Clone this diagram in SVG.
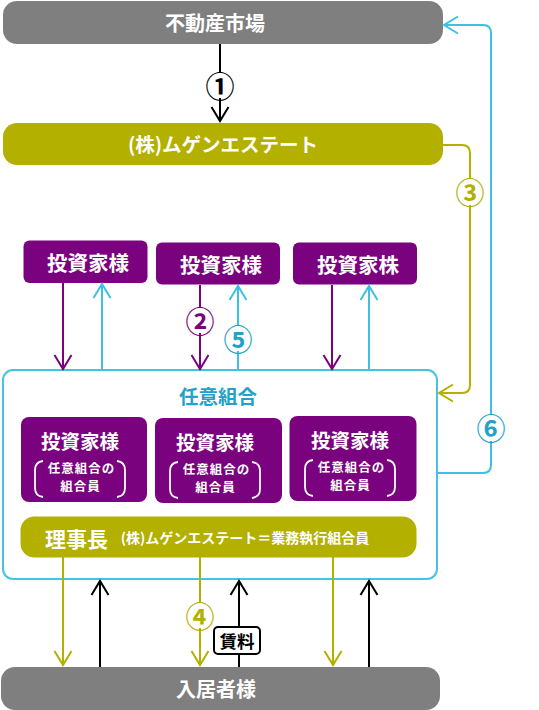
<svg xmlns="http://www.w3.org/2000/svg" width="539" height="710" viewBox="0 0 539 710">
<defs>
<style>
text{font-family:"Noto Sans CJK JP","Noto Sans",sans-serif;text-anchor:middle;dominant-baseline:central}
.w{fill:#fff;font-weight:bold}
.big{font-size:20px}
.mid{font-size:19.5px}
.top{font-size:20.5px}
.sm{font-size:12.5px;letter-spacing:1px}
.num{font-size:29px;font-weight:bold}
.ln{fill:none;stroke-width:2}
.k{stroke:#000}
.p{stroke:#7b027e}
.c{stroke:#3fc0e2}
.o{stroke:#b3b000}
.br{fill:none;stroke:#fff;stroke-width:1.8}
.gray{fill:#7f7f7f}
.olive{fill:#b3b000}
.purple{fill:#7b027e}
</style>
<marker id="ak" markerUnits="userSpaceOnUse" markerWidth="20" markerHeight="20" viewBox="0 0 20 20" refX="15" refY="10" orient="auto"><path d="M1,1.5 L15,10 L1,18.5" fill="none" stroke="#000" stroke-width="2"/></marker>
<marker id="ap" markerUnits="userSpaceOnUse" markerWidth="20" markerHeight="20" viewBox="0 0 20 20" refX="15" refY="10" orient="auto"><path d="M1,1.5 L15,10 L1,18.5" fill="none" stroke="#7b027e" stroke-width="2"/></marker>
<marker id="ac" markerUnits="userSpaceOnUse" markerWidth="20" markerHeight="20" viewBox="0 0 20 20" refX="15" refY="10" orient="auto"><path d="M1,1.5 L15,10 L1,18.5" fill="none" stroke="#3fc0e2" stroke-width="2"/></marker>
<marker id="ao" markerUnits="userSpaceOnUse" markerWidth="20" markerHeight="20" viewBox="0 0 20 20" refX="15" refY="10" orient="auto"><path d="M1,1.5 L15,10 L1,18.5" fill="none" stroke="#b3b000" stroke-width="2"/></marker>
</defs>
<rect width="539" height="710" fill="#fff"/>

<g id="market">
<rect class="gray" x="3" y="1" width="440" height="43" rx="14"/>
<text class="w big" x="215" y="22">不動産市場</text>
</g>

<g id="mugen">
<rect class="olive" x="3" y="123" width="440" height="42" rx="14"/>
<text class="w mid" x="223" y="143">(株)ムゲンエステート</text>
</g>

<g id="investor1">
<rect class="purple" x="23.5" y="240.5" width="124" height="42.5" rx="6"/>
<text class="w top" x="88" y="262">投資家様</text>
</g>
<g id="investor2">
<rect class="purple" x="156" y="242.5" width="124" height="42" rx="6"/>
<text class="w top" x="221" y="264">投資家様</text>
</g>
<g id="investor3">
<rect class="purple" x="293" y="242.5" width="124" height="42" rx="6"/>
<text class="w top" x="358" y="264">投資家株</text>
</g>

<g id="kumiai">
<rect x="3" y="370" width="434" height="209" rx="10" fill="none" stroke="#45c2e4" stroke-width="2"/>
<text x="218" y="395" style="font-size:19.5px;font-weight:bold;fill:#22a2c8">任意組合</text>
</g>

<g id="member1">
<rect class="purple" x="21" y="417" width="126" height="85" rx="8"/>
<text class="w mid" x="80" y="440">投資家様</text>
<text class="w sm" x="81.5" y="467">任意組合の</text>
<text class="w sm" x="80.5" y="485.5">組合員</text>
<path class="br" d="M43,461 Q35,462 35,470 V488 Q35,496 43,497 M117,461 Q125,462 125,470 V488 Q125,496 117,497"/>
</g>
<g id="member2">
<rect class="purple" x="155" y="418" width="127" height="85" rx="8"/>
<text class="w mid" x="215" y="441">投資家様</text>
<text class="w sm" x="216.5" y="468">任意組合の</text>
<text class="w sm" x="215.5" y="486.5">組合員</text>
<path class="br" d="M178,462 Q170,463 170,471 V489 Q170,497 178,498 M252,462 Q260,463 260,471 V489 Q260,497 252,498"/>
</g>
<g id="member3">
<rect class="purple" x="289.5" y="416" width="127" height="85" rx="8"/>
<text class="w mid" x="350" y="439">投資家様</text>
<text class="w sm" x="351.5" y="466">任意組合の</text>
<text class="w sm" x="350.5" y="484.5">組合員</text>
<path class="br" d="M313,460 Q305,461 305,469 V487 Q305,495 313,496 M387,460 Q395,461 395,469 V487 Q395,495 387,496"/>
</g>

<g id="chairman">
<rect class="olive" x="20.5" y="516.5" width="396" height="41" rx="14"/>
<text class="w" x="76.5" y="538" style="font-size:21px">理事長</text>
<text class="w" x="245" y="537" style="font-size:14px">(株)ムゲンエステート＝業務執行組合員</text>
</g>

<g id="tenant">
<rect class="gray" x="1" y="667" width="439" height="43" rx="14"/>
<text class="w big" x="216" y="688">入居者様</text>
</g>

<g id="connectors">
<path class="ln k" d="M220,44 V72"/>
<path class="ln k" d="M220,98 V121" marker-end="url(#ak)"/>
<text class="num" x="220" y="85" fill="#000">①</text>

<path class="ln o" d="M443,145 H462 Q470,145 470,153 V178"/>
<path class="ln o" d="M470,205 V385 Q470,393 462,393 H439" marker-end="url(#ao)"/>
<text class="num" x="470" y="191" fill="#b3b000">③</text>

<path class="ln c" d="M437,473 H483 Q491,473 491,465 V441"/>
<path class="ln c" d="M491,414 V33 Q491,25 483,25 H444" marker-end="url(#ac)"/>
<text class="num" x="491" y="427" fill="#22a2c8">⑥</text>

<path class="ln p" d="M63,283 V369" marker-end="url(#ap)"/>
<path class="ln c" d="M102,370 V284" marker-end="url(#ac)"/>
<path class="ln p" d="M200,285 V307"/>
<path class="ln p" d="M200,333 V369" marker-end="url(#ap)"/>
<text class="num" x="200" y="320" fill="#7b027e">②</text>
<path class="ln c" d="M238,370 V351"/>
<path class="ln c" d="M238,325 V286" marker-end="url(#ac)"/>
<text class="num" x="238" y="338" fill="#22a2c8">⑤</text>
<path class="ln p" d="M332,285 V369" marker-end="url(#ap)"/>
<path class="ln c" d="M369,370 V286" marker-end="url(#ac)"/>

<path class="ln o" d="M63,557 V665" marker-end="url(#ao)"/>
<path class="ln o" d="M200,557 V602"/>
<path class="ln o" d="M200,628 V665" marker-end="url(#ao)"/>
<text class="num" x="200" y="615" fill="#b3b000">④</text>
<path class="ln o" d="M333,557 V665" marker-end="url(#ao)"/>

<path class="ln k" d="M100,667 V581" marker-end="url(#ak)"/>
<path class="ln k" d="M239,667 V581" marker-end="url(#ak)"/>
<path class="ln k" d="M369,667 V581" marker-end="url(#ak)"/>
<rect x="214" y="627" width="46" height="27" rx="4" fill="#fff" stroke="#000" stroke-width="2"/>
<text x="237" y="640" style="font-size:17.5px;font-weight:bold;fill:#000">賃料</text>
</g>
</svg>
